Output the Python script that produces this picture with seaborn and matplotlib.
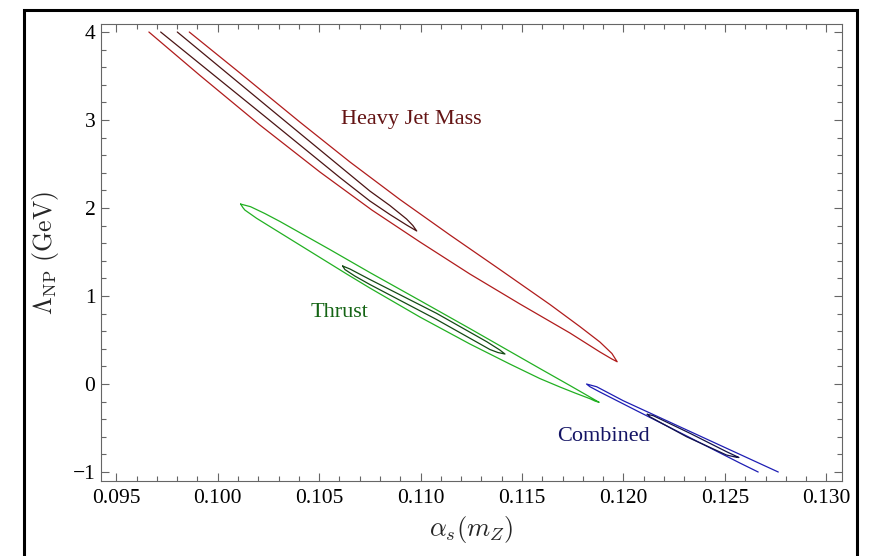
import matplotlib
matplotlib.use("Agg")
import matplotlib.pyplot as plt
import seaborn as sns
import pandas as pd
from matplotlib.ticker import MultipleLocator, FormatStrFormatter
from matplotlib.patches import Rectangle

# ---------------- data (alpha_s(mZ), Lambda_NP) ----------------
hjm_outer_as = [0.09661, 0.09913, 0.10208, 0.10504, 0.10760, 0.10997, 0.11243, 0.11490,
                0.11736, 0.11884, 0.11943, 0.11969, 0.11943, 0.11884, 0.11785, 0.11638,
                0.11391, 0.11145, 0.10898, 0.10652, 0.10405, 0.10110, 0.09860]
hjm_outer_lam = [4.000, 3.506, 2.943, 2.409, 1.977, 1.614, 1.250, 0.909,
                 0.580, 0.364, 0.284, 0.253, 0.347, 0.477, 0.653, 0.903,
                 1.301, 1.693, 2.097, 2.523, 2.977, 3.534, 4.000]

hjm_inner_as = [0.09719, 0.10233, 0.10602, 0.10750, 0.10849, 0.10931, 0.10981,
                0.10962, 0.10931, 0.10849, 0.10750, 0.10272, 0.09801]
hjm_inner_lam = [4.000, 3.040, 2.347, 2.080, 1.926, 1.807, 1.739,
                 1.801, 1.875, 2.028, 2.193, 3.102, 4.000]

thrust_outer_as = [0.10113, 0.10162, 0.10232, 0.10307, 0.10553, 0.10750, 0.10997, 0.11243,
                   0.11588, 0.11736, 0.11835, 0.11880, 0.11859, 0.11835, 0.11761, 0.11687,
                   0.11588, 0.11440, 0.11243, 0.10997, 0.10750, 0.10636, 0.10389, 0.10192,
                   0.10134, 0.10124, 0.10113]
thrust_outer_lam = [2.045, 2.015, 1.938, 1.847, 1.528, 1.267, 0.949, 0.630,
                    0.176, -0.017, -0.148, -0.208, -0.193, -0.167, -0.102, -0.034,
                    0.062, 0.227, 0.455, 0.761, 1.091, 1.250, 1.602, 1.883,
                    1.977, 2.006, 2.045]

thrust_inner_as = [0.10616, 0.10652, 0.10750, 0.11079, 0.11326, 0.11391, 0.11416,
                   0.11381, 0.11342, 0.11079, 0.10750, 0.10676, 0.10627, 0.10616]
thrust_inner_lam = [1.341, 1.307, 1.188, 0.803, 0.481, 0.386, 0.341,
                    0.358, 0.392, 0.733, 1.131, 1.227, 1.301, 1.341]

comb_outer_as = [0.12664, 0.12574, 0.12328, 0.12081, 0.11884, 0.11835, 0.11818,
                 0.11868, 0.11999, 0.12245, 0.12492, 0.12763]
comb_outer_lam = [-1.000, -0.898, -0.610, -0.322, -0.091, -0.031, 0.000,
                  -0.031, -0.190, -0.451, -0.713, -1.000]

comb_inner_as = [0.12117, 0.12147, 0.12328, 0.12508, 0.12569, 0.12558, 0.12508,
                 0.12311, 0.12130, 0.12117]
comb_inner_lam = [-0.344, -0.360, -0.560, -0.769, -0.835, -0.833, -0.807,
                  -0.599, -0.372, -0.344]

labels = ["Heavy Jet Mass", "Thrust", "Combined"]
label_as = [0.10952, 0.10598, 0.11899]
label_lam = [3.011, 0.818, -0.591]

x_ticks = [0.095, 0.100, 0.105, 0.110, 0.115, 0.120, 0.125, 0.130]
y_ticks = [-1, 0, 1, 2, 3, 4]

# ---------------- style ----------------
sns.set_theme(style="ticks")
plt.rcParams['font.family'] = ['Liberation Serif', 'DejaVu Serif']
plt.rcParams['mathtext.fontset'] = 'cm'

fig = plt.figure(figsize=(8.7, 5.56), dpi=100)
ax = fig.add_axes([101 / 870, 1 - 481 / 556, 741 / 870, 457 / 556])

contours = [
    (hjm_outer_as, hjm_outer_lam, "#b01c1c"),
    (hjm_inner_as, hjm_inner_lam, "#4a1414"),
    (thrust_outer_as, thrust_outer_lam, "#22b022"),
    (thrust_inner_as, thrust_inner_lam, "#144a14"),
    (comb_outer_as, comb_outer_lam, "#1e1eb4"),
    (comb_inner_as, comb_inner_lam, "#14144a"),
]
for xs, ys, col in contours:
    df = pd.DataFrame({"as": xs, "lam": ys})
    sns.lineplot(data=df, x="as", y="lam", sort=False, estimator=None,
                 color=col, lw=0.9, ax=ax, legend=False)

label_colors = ["#641414", "#146414", "#141464"]
for t, xx, yy, c in zip(labels, label_as, label_lam, label_colors):
    ax.text(xx, yy, t, color=c, fontsize=16, ha="center", va="center")

ax.set_xlim(0.09425, 0.13077)
ax.set_ylim(-1.102, 4.091)
ax.set_xticks(x_ticks)
ax.set_yticks(y_ticks)
ax.xaxis.set_major_formatter(FormatStrFormatter('%.3f'))
ax.xaxis.set_minor_locator(MultipleLocator(0.001))
ax.yaxis.set_minor_locator(MultipleLocator(0.2))
ax.tick_params(which='both', direction='in', top=True, right=True,
               color='#666666', width=0.8, labelsize=15.5, labelcolor='black')
ax.tick_params(which='major', length=6)
ax.tick_params(axis='x', which='major', pad=6)
ax.tick_params(axis='y', which='major', pad=4)
ax.tick_params(which='minor', length=3.5)
for s in ax.spines.values():
    s.set_color('#666666')
    s.set_linewidth(0.8)

ax.set_xlabel(r"$\alpha_s(m_Z)$", fontsize=19)
ax.set_ylabel(r"$\Lambda_{\mathrm{NP}}\ (\mathrm{GeV})$", fontsize=18.5)
ax.xaxis.set_label_coords(0.5, -0.107)
ax.yaxis.set_label_coords(-0.075, 0.5)
ax.xaxis.label.set_va('center')
ax.yaxis.label.set_va('center')

# outer frame
fig.patches.append(Rectangle((24 / 870, -0.02), 833 / 870, 1 - 10 / 556 + 0.02,
                             transform=fig.transFigure, fill=False,
                             edgecolor='black', lw=2.2, zorder=10))

fig.savefig("out.png", dpi=100)
